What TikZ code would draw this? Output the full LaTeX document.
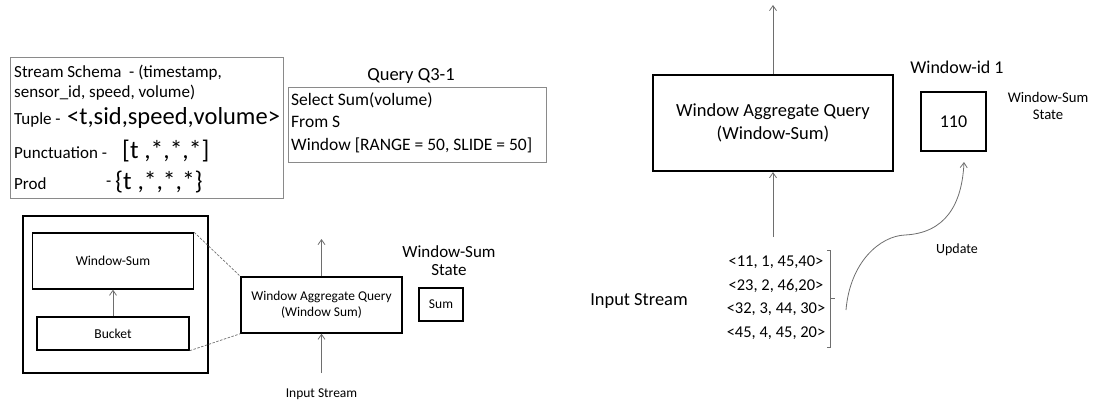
\documentclass[tikz,border=0pt]{standalone}
\usepackage{fontspec}
\setmainfont{Carlito}
\usetikzlibrary{arrows.meta}
\definecolor{lgray}{HTML}{8A8A8A}
\definecolor{agray}{HTML}{6E6E6E}
\newcommand{\fs}[2]{\fontsize{#1}{#2}\selectfont}
\tikzset{
  graybox/.style={draw=lgray, line width=0.9pt, inner sep=0pt},
  blkbox/.style={draw=black, line width=1.4pt, inner sep=0pt, align=center},
  bigbox/.style={draw=black, line width=2.2pt, inner sep=0pt, align=center},
  txt/.style={inner sep=0pt, anchor=west},
  ctxt/.style={inner sep=0pt, align=center},
  arr/.style={draw=agray, line width=0.8pt, -{Straight Barb[length=5pt,width=7pt]}},
  dashline/.style={draw=agray, line width=0.7pt, dash pattern=on 2.5pt off 1.5pt}
}
\begin{document}
\begin{tikzpicture}[x=1pt,y=-1pt]
\useasboundingbox (0,0) rectangle (1094,402);

% ---- top-left schema box
\node[graybox, minimum width=273, minimum height=141] (schema) at (146.5,127.5) {};
\node[txt, font=\fs{17}{20}] (s1) at (14,73) {Stream Schema\ \ - (timestamp,};
\node[txt, font=\fs{17}{20}] (s2) at (14,93) {sensor\_id, speed, volume)};
\node[txt, font=\fs{17}{20}] (s3) at (14,120) {Tuple -};
\node[txt, font=\fs{24.5}{28}] (s3b) at (67,118) {<t,sid,speed,volume>};
\node[txt, font=\fs{17}{20}] (s4) at (14,153) {Punctuation -};
\node[txt, font=\fs{25.5}{28}] (s4b) at (122,151) {[t ,*,*,*]};
\node[txt, font=\fs{17}{20}] (s5) at (14,184) {Prod};
\node[txt, font=\fs{17}{20}] (s6) at (106,184) {-};
\node[txt, font=\fs{25.5}{28}] (s6b) at (115,182) {\{t ,*,*,*\}};

% ---- query box
\node[ctxt, font=\fs{18.5}{20}] (qlabel) at (411,76) {Query Q3-1};
\node[graybox, minimum width=258, minimum height=75] (query) at (417,124.5) {};
\node[txt, font=\fs{17.5}{20}] (q1) at (291,100) {Select Sum(volume)};
\node[txt, font=\fs{17.5}{20}] (q2) at (291,122) {From S};
\node[txt, font=\fs{17.5}{20}] (q3) at (291,145) {Window [RANGE = 50, SLIDE = 50]};

% ---- bottom-left
\node[blkbox, minimum width=185, minimum height=157] (outer) at (115.5,294.5) {};
\node[blkbox, minimum width=161, minimum height=56, font=\fs{13.6}{16}] (wsum) at (113,261) {Window-Sum};
\node[blkbox, minimum width=152, minimum height=33, font=\fs{13.6}{16}] (bucket) at (113,333.5) {Bucket};
\draw[arr] (bucket.north) -- (wsum.south);
\node[blkbox, minimum width=161, minimum height=56, font=\fs{13.4}{16}] (waqL) at (321.5,305) {Window Aggregate Query\\(Window Sum)};
\draw[dashline] (wsum.north east) -- (waqL.north west);
\draw[dashline] (bucket.south east) -- (waqL.south west);
\coordinate (outL) at (321.5,239);
\coordinate (inLc) at (321.5,373);
\draw[arr] (waqL.north) -- (outL);
\draw[arr] (inLc) -- (waqL.south);
\node[ctxt, font=\fs{13.5}{16}] (inL) at (321.5,394) {Input Stream};
\node[ctxt, font=\fs{17}{17.5}] (wsstL) at (449,260.5) {Window-Sum\\State};
\node[blkbox, minimum width=44, minimum height=33, font=\fs{13.5}{16}] (sumL) at (441,304.5) {Sum};

% ---- right side
\node[bigbox, minimum width=240, minimum height=96, font=\fs{18.5}{23}] (waqR) at (773,123) {Window Aggregate Query\\(Window-Sum)};
\coordinate (outR) at (773,5);
\coordinate (inRc) at (773,237);
\draw[arr] (waqR.north) -- (outR);
\draw[arr] (inRc) -- (waqR.south);
\node[ctxt, font=\fs{18}{20}] (wid) at (957,67) {Window-id 1};
\node[bigbox, minimum width=65, minimum height=59, font=\fs{18}{20}] (b110) at (953.5,121.5) {110};
\node[ctxt, font=\fs{14.7}{17}] (wsstR) at (1048,105.5) {Window-Sum\\State};

\node[ctxt, font=\fs{16.5}{20}] (t1) at (776,262) {<11, 1, 45,40>};
\node[ctxt, font=\fs{16.5}{20}] (t2) at (776,286) {<23, 2, 46,20>};
\node[ctxt, font=\fs{16.5}{20}] (t3) at (776,309) {<32, 3, 44, 30>};
\node[ctxt, font=\fs{16.5}{20}] (t4) at (776,333) {<45, 4, 45, 20>};
\draw[draw=agray, line width=0.8pt] (827,250) -- (830,250) -- (830,347) -- (827,347);
\draw[draw=agray, line width=0.8pt] (830,298) -- (835,298);
\node[ctxt, font=\fs{18.4}{20}] (inR) at (639,301) {Input Stream};

\coordinate (updS) at (846,310);
\coordinate (updE) at (964,162);
\draw[arr] (updS) .. controls (850,262) and (880,236) .. (905,235)
  .. controls (945,233) and (962,205) .. (updE);
\node[ctxt, font=\fs{14}{16}] (upd) at (957,250) {Update};
\end{tikzpicture}
\end{document}
